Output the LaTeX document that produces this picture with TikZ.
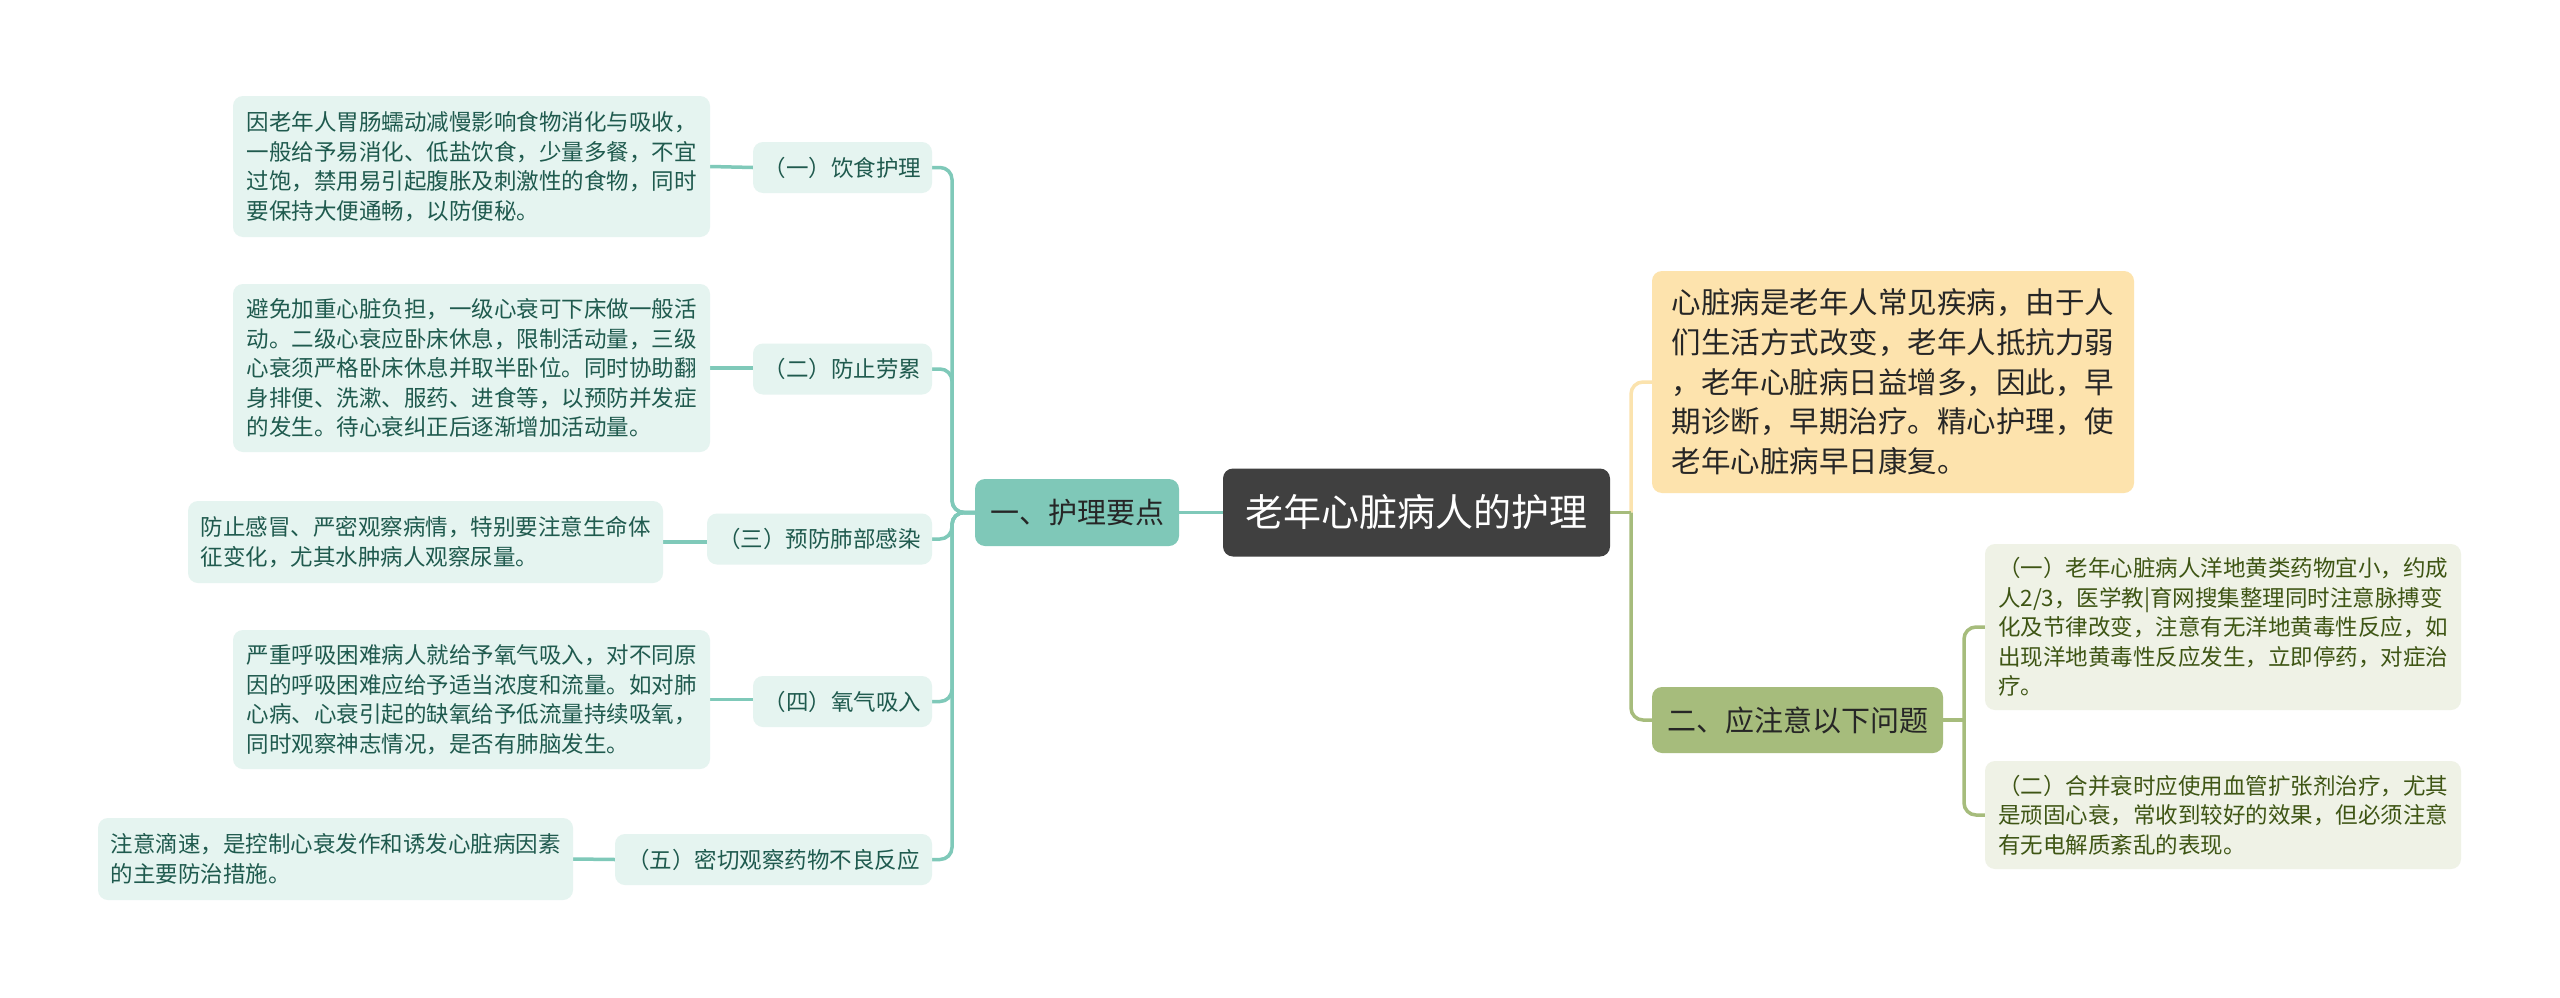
\documentclass[tikz,border=0pt]{standalone}
\usepackage{fontspec}
\setmainfont{Noto Sans CJK SC}
\definecolor{tealline}{HTML}{7FC9B9}
\definecolor{leaffill}{HTML}{E5F4F0}
\definecolor{leaftext}{HTML}{1F5A4E}
\definecolor{hubfill}{HTML}{7FC8B8}
\definecolor{rootfill}{HTML}{404040}
\definecolor{yelfill}{HTML}{FDE3AD}
\definecolor{yelline}{HTML}{FBE3AE}
\definecolor{grnfill}{HTML}{A6BC7C}
\definecolor{grnline}{HTML}{A6BC7C}
\definecolor{rfill}{HTML}{EFF2E6}
\definecolor{rtext}{HTML}{3E5514}
\pgfdeclarelayer{bg}
\pgfsetlayers{bg,main}
\begin{document}
\begin{tikzpicture}[x=1pt,y=-1pt,
  box/.style={rounded corners=10pt,inner sep=0pt,align=left,anchor=center},
  desc/.style={box,fill=leaffill,text=leaftext,font=\fontsize{22.5}{29.5}\selectfont},
  lbl/.style={box,fill=leaffill,text=leaftext,font=\fontsize{22.5}{29.5}\selectfont,minimum height=51pt},
  rdesc/.style={box,fill=rfill,text=rtext,font=\fontsize{22.5}{29.5}\selectfont,minimum width=476pt},
  tl/.style={draw=tealline,line width=3.5pt,rounded corners=12pt},
  gl/.style={draw=grnline,line width=3.5pt,rounded corners=12pt},
  yl/.style={draw=yelline,line width=3.5pt,rounded corners=12pt}]
\begin{pgfonlayer}{bg}
\fill[white] (0,0) rectangle (2560,998);
\end{pgfonlayer}
\useasboundingbox (0,0) rectangle (2560,998);

% root and main branches
\node[box,fill=rootfill,text=white,font=\fontsize{38}{44}\selectfont,minimum width=387pt,minimum height=88pt] (root) at (1416.5,512.5) {老年心脏病人的护理};
\node[box,fill=hubfill,text=black!85,font=\fontsize{29}{35}\selectfont,minimum width=204pt,minimum height=67pt] (hub) at (1077,512.5) {一、护理要点};
\node[box,fill=grnfill,text=black!85,font=\fontsize{29}{35}\selectfont,minimum width=291pt,minimum height=66pt] (g2) at (1797.5,720) {二、应注意以下问题};
\node[box,fill=yelfill,text=black!85,font=\fontsize{29.5}{39.7}\selectfont,minimum width=482pt,minimum height=222pt] (yel) at (1893,382) {心脏病是老年人常见疾病，由于人\\们生活方式改变，老年人抵抗力弱\\，老年心脏病日益增多，因此，早\\期诊断，早期治疗。精心护理，使\\老年心脏病早日康复。};

% left labels
\node[lbl,minimum width=179pt] (l1) at (842.5,167.5) {（一）饮食护理};
\node[lbl,minimum width=179pt] (l2) at (842.5,369) {（二）防止劳累};
\node[lbl,minimum width=225pt] (l3) at (819.5,539) {（三）预防肺部感染};
\node[lbl,minimum width=179pt] (l4) at (842.5,701.5) {（四）氧气吸入};
\node[lbl,minimum width=317pt] (l5) at (773.5,859.5) {（五）密切观察药物不良反应};

% left descriptions
\node[desc,minimum width=477pt,minimum height=141pt] (d1) at (471.5,166.5) {因老年人胃肠蠕动减慢影响食物消化与吸收，\\一般给予易消化、低盐饮食，少量多餐，不宜\\过饱，禁用易引起腹胀及刺激性的食物，同时\\要保持大便通畅，以防便秘。};
\node[desc,minimum width=477pt,minimum height=168pt] (d2) at (471.5,368) {避免加重心脏负担，一级心衰可下床做一般活\\动。二级心衰应卧床休息，限制活动量，三级\\心衰须严格卧床休息并取半卧位。同时协助翻\\身排便、洗漱、服药、进食等，以预防并发症\\的发生。待心衰纠正后逐渐增加活动量。};
\node[desc,minimum width=475pt,minimum height=82pt] (d3) at (425.5,542) {防止感冒、严密观察病情，特别要注意生命体\\征变化，尤其水肿病人观察尿量。};
\node[desc,minimum width=477pt,minimum height=139pt] (d4) at (471.5,699.5) {严重呼吸困难病人就给予氧气吸入，对不同原\\因的呼吸困难应给予适当浓度和流量。如对肺\\心病、心衰引起的缺氧给予低流量持续吸氧，\\同时观察神志情况，是否有肺脑发生。};
\node[desc,minimum width=475pt,minimum height=82pt] (d5) at (335.5,859) {注意滴速，是控制心衰发作和诱发心脏病因素\\的主要防治措施。};

% right descriptions
\node[rdesc,minimum height=166pt] (r1) at (2223,627) {（一）老年心脏病人洋地黄类药物宜小，约成\\人2/3，医学教|育网搜集整理同时注意脉搏变\\化及节律改变，注意有无洋地黄毒性反应，如\\出现洋地黄毒性反应发生，立即停药，对症治\\疗。};
\node[rdesc,minimum height=108pt] (r2) at (2223,815) {（二）合并衰时应使用血管扩张剂治疗，尤其\\是顽固心衰，常收到较好的效果，但必须注意\\有无电解质紊乱的表现。};

% junctions
\coordinate (jL) at (952,512.5);
\coordinate (jR) at (1631,512.5);
\coordinate (jR2) at (1964,720);

% connectors behind the nodes
\begin{pgfonlayer}{bg}
\draw[tl] (root.west) -- (hub.east);
\foreach \n in {l1,l2,l3,l4,l5} {\draw[tl] (\n.east) -| (jL) -- (hub.west);}
\draw[tl] (d1.east) -- (l1.west);
\draw[tl] (d2.east) -- (d2.east -| l2.west);
\draw[tl] (d3.east) -- (d3.east -| l3.west);
\draw[tl] (d4.east) -- (d4.east -| l4.west);
\draw[tl] (d5.east) -- (l5.west);
\draw[yl] (yel.west) -| (jR);
\draw[gl] (root.east) -- (jR);
\draw[gl] (g2.west) -| (jR);
\draw[gl] (g2.east) -- (jR2);
\draw[gl] (r1.west) -| (jR2);
\draw[gl] (r2.west) -| (jR2);
\end{pgfonlayer}
\end{tikzpicture}
\end{document}
